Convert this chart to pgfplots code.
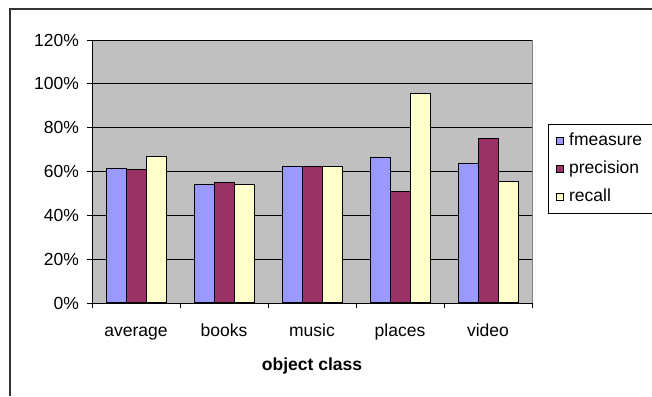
\documentclass[border=0pt]{standalone}
\usepackage{pgfplots}
\pgfplotsset{compat=1.18}
\usepackage{fontspec}
\setmainfont{Liberation Sans}
\definecolor{cf}{HTML}{9999FF}
\definecolor{cp}{HTML}{993366}
\definecolor{cr}{HTML}{FFFFCC}
\definecolor{bg}{HTML}{C0C0C0}
\definecolor{bd}{HTML}{808080}
\begin{document}
\fontsize{17.5}{20}\selectfont
\begin{tikzpicture}[x=1pt,y=1pt]
\useasboundingbox (0,0) rectangle (652,396);
\draw[line width=1.2pt, black!80] (10,0) -- (10,387) -- (652,387);
\begin{axis}[
  at={(92pt,93pt)}, anchor=south west,
  scale only axis, width=440pt, height=263pt,
  xmin=-0.5, xmax=4.5, ymin=0, ymax=1.2,
  ybar=0pt, bar width=20pt,
  axis background/.style={fill=bg, draw=bd},
  axis x line*=bottom, axis y line*=left,
  axis line style={black, line width=0.8pt},
  tick align=outside,
  xtick={0,1,2,3,4},
  xticklabels={average,books,music,places,video},
  major x tick style={draw=none},
  minor xtick={-0.5,0.5,1.5,2.5,3.5,4.5},
  minor tick length=5pt,
  minor x tick style={black, line width=0.8pt},
  ytick={0,0.2,0.4,0.6,0.8,1.0,1.2},
  yticklabels={0\%,20\%,40\%,60\%,80\%,100\%,120\%},
  major tick length=5pt,
  y tick style={black, line width=0.8pt},
  ymajorgrids, grid style={black, line width=0.8pt},
  tick label style={font=\fontsize{17.5}{20}\selectfont},
  yticklabel style={xshift=-2pt},
  xticklabel style={text height=13pt, text depth=4pt, yshift=-9pt},
  xlabel={\textbf{object class}},
  xlabel style={font=\fontsize{17.5}{20}\selectfont, yshift=-6pt},
  every axis plot/.append style={draw=black, line width=1pt},
  legend style={at={(axis description cs:1.036,0.681)}, anchor=north west,
    draw=black, line width=0.6pt, font=\fontsize{17.5}{20}\selectfont,
    row sep=8.5pt, inner xsep=3pt, inner ysep=7pt, text width=79pt},
  legend image code/.code={\draw[#1, line width=0.6pt] (5pt,-3.5pt) rectangle (12pt,3.5pt); \path (0pt,0pt) (15pt,0pt);},
  legend cell align=left,
]
\addplot[fill=cf] coordinates {(0,0.615) (1,0.542) (2,0.622) (3,0.665) (4,0.635)};
\addplot[fill=cp] coordinates {(0,0.607) (1,0.548) (2,0.622) (3,0.507) (4,0.752)};
\addplot[fill=cr] coordinates {(0,0.670) (1,0.542) (2,0.622) (3,0.954) (4,0.553)};
\legend{fmeasure,precision,recall}
\end{axis}
\end{tikzpicture}
\end{document}
